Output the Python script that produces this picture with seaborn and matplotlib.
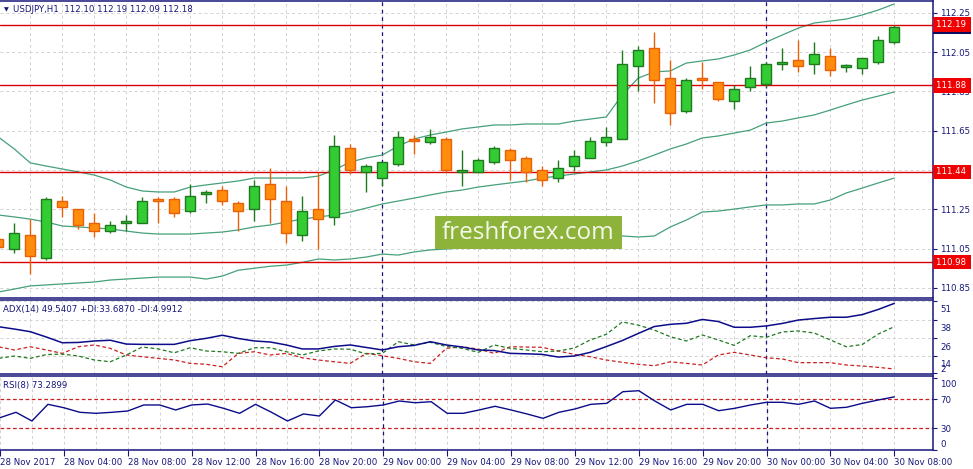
import matplotlib
matplotlib.use('Agg')
import matplotlib.pyplot as plt
import matplotlib.transforms as mtransforms
from matplotlib.patches import Rectangle
import seaborn as sns

# hourly bars, 28 Nov 2017 00:00 .. 30 Nov 08:00
hours = list(range(57))
opens = [111.10, 111.05, 111.12, 111.00, 111.29, 111.25, 111.18, 111.14, 111.18, 111.18,
         111.30, 111.30, 111.24, 111.33, 111.35, 111.28, 111.25, 111.38, 111.29, 111.12,
         111.25, 111.21, 111.56, 111.44, 111.41, 111.48, 111.61, 111.59, 111.61, 111.44,
         111.44, 111.49, 111.55, 111.51, 111.45, 111.41, 111.47, 111.51, 111.59, 111.61,
         111.98, 112.07, 111.92, 111.75, 111.92, 111.90, 111.80, 111.87, 111.89, 111.99,
         112.01, 111.99, 112.03, 111.975, 111.97, 112.00, 112.10]
highs = [111.11, 111.18, 111.20, 111.31, 111.32, 111.25, 111.23, 111.19, 111.22, 111.31,
         111.31, 111.31, 111.38, 111.35, 111.37, 111.29, 111.40, 111.46, 111.37, 111.32,
         111.44, 111.63, 111.58, 111.48, 111.49, 111.65, 111.63, 111.66, 111.62, 111.55,
         111.51, 111.57, 111.56, 111.52, 111.47, 111.50, 111.55, 111.62, 111.67, 112.06,
         112.08, 112.15, 112.01, 111.92, 112.00, 111.90, 111.88, 111.98, 112.00, 112.07,
         112.11, 112.10, 112.07, 111.99, 112.02, 112.13, 112.19]
lows = [111.04, 111.03, 110.92, 110.99, 111.21, 111.15, 111.11, 111.13, 111.14, 111.18,
        111.18, 111.21, 111.23, 111.28, 111.27, 111.14, 111.19, 111.18, 111.08, 111.09,
        111.05, 111.17, 111.43, 111.34, 111.37, 111.47, 111.53, 111.58, 111.44, 111.37,
        111.44, 111.48, 111.40, 111.39, 111.37, 111.39, 111.445, 111.51, 111.57, 111.61,
        111.85, 111.79, 111.68, 111.74, 111.86, 111.80, 111.76, 111.85, 111.87, 111.96,
        111.95, 111.94, 111.93, 111.95, 111.94, 111.99, 112.09]
closes = [111.06, 111.13, 111.01, 111.30, 111.26, 111.17, 111.14, 111.17, 111.19, 111.29,
          111.29, 111.23, 111.32, 111.34, 111.29, 111.24, 111.37, 111.30, 111.13, 111.24,
          111.20, 111.57, 111.45, 111.47, 111.49, 111.62, 111.60, 111.62, 111.45, 111.45,
          111.50, 111.56, 111.50, 111.44, 111.40, 111.46, 111.52, 111.60, 111.62, 111.99,
          112.06, 111.91, 111.74, 111.91, 111.91, 111.81, 111.86, 111.92, 111.99, 112.00,
          111.98, 112.04, 111.96, 111.985, 112.02, 112.11, 112.18]

# Bollinger bands
bb_upper = [111.618, 111.557, 111.486, 111.470, 111.455, 111.440, 111.424, 111.399, 111.363, 111.343,
            111.338, 111.338, 111.363, 111.374, 111.384, 111.394, 111.409, 111.409, 111.409, 111.409,
            111.419, 111.450, 111.491, 111.511, 111.526, 111.572, 111.608, 111.628, 111.643, 111.659,
            111.669, 111.679, 111.679, 111.684, 111.684, 111.684, 111.699, 111.709, 111.720, 111.832,
            111.918, 111.949, 111.954, 111.994, 112.005, 112.015, 112.035, 112.061, 112.101, 112.137,
            112.172, 112.198, 112.208, 112.218, 112.239, 112.264, 112.295]
bb_middle = [111.221, 111.211, 111.200, 111.185, 111.165, 111.160, 111.155, 111.150, 111.139, 111.129,
             111.124, 111.124, 111.124, 111.129, 111.134, 111.145, 111.160, 111.170, 111.185, 111.200,
             111.211, 111.221, 111.236, 111.256, 111.277, 111.292, 111.307, 111.323, 111.338, 111.348,
             111.363, 111.374, 111.384, 111.394, 111.409, 111.419, 111.430, 111.440, 111.450, 111.470,
             111.496, 111.526, 111.557, 111.582, 111.613, 111.623, 111.638, 111.653, 111.689, 111.699,
             111.715, 111.730, 111.755, 111.781, 111.806, 111.826, 111.847]
bb_lower = [110.829, 110.844, 110.860, 110.865, 110.870, 110.875, 110.880, 110.890, 110.895, 110.900,
            110.905, 110.905, 110.905, 110.895, 110.910, 110.940, 110.950, 110.960, 110.966, 110.980,
            110.997, 110.992, 110.997, 111.007, 111.022, 111.017, 111.033, 111.043, 111.048, 111.053,
            111.058, 111.063, 111.068, 111.078, 111.089, 111.099, 111.114, 111.134, 111.145, 111.114,
            111.109, 111.114, 111.160, 111.195, 111.236, 111.241, 111.251, 111.262, 111.272, 111.272,
            111.277, 111.277, 111.297, 111.333, 111.358, 111.384, 111.409]

levels = [112.19, 111.88, 111.44, 110.98]
price_ticks = [110.85, 111.05, 111.25, 111.45, 111.65, 111.85, 112.05, 112.25]

# ADX(14)
adx = [33.7, 32.1, 30.3, 26.7, 22.8, 23.0, 24.0, 24.5, 21.9, 21.7,
       21.7, 21.7, 24.2, 25.8, 27.9, 25.7, 24.0, 23.3, 21.3, 18.6,
       18.6, 20.3, 21.3, 19.6, 17.9, 20.1, 21.0, 23.5, 21.3, 19.9,
       17.9, 17.5, 15.6, 15.3, 14.9, 13.1, 13.8, 16.3, 20.2, 24.3,
       29.1, 33.8, 35.3, 36.0, 38.6, 37.2, 33.3, 33.3, 34.2, 35.9,
       38.2, 39.2, 40.1, 40.1, 41.9, 45.4, 49.5]
plus_di = [12.2, 13.8, 12.2, 14.8, 15.1, 13.8, 11.1, 9.9, 14.5, 19.9,
           18.6, 16.0, 19.4, 17.2, 16.7, 15.6, 19.4, 19.4, 16.7, 14.5,
           17.2, 18.6, 18.4, 15.2, 15.6, 23.5, 21.3, 23.1, 20.3, 19.0,
           16.3, 21.3, 19.0, 17.9, 16.7, 17.2, 19.2, 24.7, 28.5, 36.9,
           34.8, 31.4, 26.9, 24.0, 28.1, 24.7, 21.0, 27.6, 26.5, 30.1,
           30.8, 29.4, 24.7, 20.1, 21.6, 28.7, 33.7]
minus_di = [20.1, 17.9, 20.1, 17.9, 15.6, 20.1, 21.3, 19.0, 14.5, 13.3,
            12.2, 11.1, 8.8, 8.2, 6.5, 15.6, 16.7, 14.5, 15.6, 12.6,
            11.1, 9.9, 8.8, 15.6, 14.0, 12.2, 9.9, 8.8, 19.0, 20.1,
            18.5, 15.6, 20.1, 19.9, 19.7, 17.2, 14.9, 13.3, 11.1, 9.5,
            8.2, 7.2, 9.9, 8.8, 7.7, 14.5, 16.3, 14.5, 12.6, 11.8,
            9.3, 9.3, 9.3, 7.7, 7.0, 6.1, 5.0]
adx_ticks = [2, 14, 26, 38, 51]

# RSI(8)
rsi = [44.6, 52.0, 40.0, 63.0, 58.3, 52.0, 50.6, 52.0, 53.8, 62.1,
       62.1, 55.2, 62.1, 63.4, 57.5, 50.6, 63.0, 52.0, 40.0, 49.7,
       46.9, 69.0, 58.3, 59.7, 62.1, 67.6, 65.2, 66.6, 50.6, 50.6,
       55.2, 60.3, 55.2, 49.7, 43.7, 52.0, 56.6, 63.0, 64.4, 80.4,
       81.8, 67.6, 55.2, 63.0, 63.0, 54.2, 57.5, 62.1, 65.8, 65.8,
       63.0, 67.6, 57.5, 58.9, 64.4, 69.0, 73.3]
rsi_ticks = [0, 30, 70, 100]

time_ticks = list(range(0, 57, 4))
time_labels = ['28 Nov 2017', '28 Nov 04:00', '28 Nov 08:00', '28 Nov 12:00', '28 Nov 16:00',
               '28 Nov 20:00', '29 Nov 00:00', '29 Nov 04:00', '29 Nov 08:00', '29 Nov 12:00',
               '29 Nov 16:00', '29 Nov 20:00', '30 Nov 00:00', '30 Nov 04:00', '30 Nov 08:00']
day_breaks = [24, 48]

sns.set_style('white')
plt.rcParams['font.family'] = ['DejaVu Sans']

navy = '#16167a'
grid_col = '#d2d2d2'
fs = 6.2

fig = plt.figure(figsize=(9.73, 4.69), dpi=100)
W, H = 973, 469
axw = 933 / W
ax = fig.add_axes([0, 1 - 298 / H, axw, 297 / H])
ax_adx = fig.add_axes([0, 1 - 374 / H, axw, 74 / H])
ax_rsi = fig.add_axes([0, 1 - 450 / H, axw, 74 / H])

for a in (ax, ax_adx, ax_rsi):
    a.set_xlim(0.106, 58.42)
    for s in a.spines.values():
        s.set_color(navy)
        s.set_linewidth(1.1)
    a.spines['left'].set_visible(False)
    a.yaxis.tick_right()
    a.tick_params(axis='y', which='both', left=False, right=True, labelleft=False, labelright=True,
                  length=3, width=0.8, pad=2, colors=navy, labelsize=fs, direction='out')
    a.tick_params(axis='x', bottom=False, labelbottom=False)
    for h in hours[::2]:
        a.axvline(h, color=grid_col, lw=0.7, ls=(0, (3, 3)), zorder=0)
    for d in day_breaks:
        a.axvline(d, color=navy, lw=0.9, ls=(0, (3, 3)), zorder=1)

# main price panel
ax.set_ylim(110.7985, 112.3099)
ax.set_yticks(price_ticks)
ax.set_yticklabels(['%.2f' % v for v in price_ticks])
for v in price_ticks:
    ax.axhline(v, color=grid_col, lw=0.7, ls=(0, (3, 3)), zorder=0)

for b in (bb_upper, bb_middle, bb_lower):
    sns.lineplot(x=hours, y=b, ax=ax, color='#46a07a', lw=0.9, zorder=2)

for lv in levels:
    ax.axhline(lv, color='#d80000', lw=1.0, zorder=2.5)

up = [c >= o for o, c in zip(opens, closes)]
fill = ['#33cc33' if u else '#ff8c0a' for u in up]
edge = ['#1f7a1f' if u else '#e8600a' for u in up]
body_lo = [min(o, c) for o, c in zip(opens, closes)]
body_h = [max(abs(c - o), 0.002) for o, c in zip(opens, closes)]
ax.vlines(hours, lows, highs, colors=edge, lw=1.0, zorder=3)
ax.bar(hours, body_h, bottom=body_lo, width=0.62, color=fill, edgecolor=edge, lw=1.0, zorder=4)

# price labels in boxes on the right scale
ytr = ax.get_yaxis_transform()
box_kw = dict(transform=ytr, ha='left', va='center', fontsize=fs, color='white', clip_on=False)
ax.text(1.003, closes[-1], '%.2f ' % closes[-1], zorder=9,
        bbox=dict(boxstyle='square,pad=0.3', fc='#0c0c60', ec='none'), **box_kw)
for lv in levels:
    ax.text(1.003, lv, '%.2f ' % lv, zorder=10,
            bbox=dict(boxstyle='square,pad=0.3', fc='#f00000', ec='none'), **box_kw)

ax.text(4 / 933, 0.971, '\u25bc', transform=ax.transAxes, fontsize=4.5, color=navy, va='center')
ax.text(13 / 933, 0.971, 'USDJPY,H1  %.2f %.2f %.2f %.2f' % (opens[-1], highs[-1], lows[-1], closes[-1]),
        transform=ax.transAxes, fontsize=fs, color=navy, va='center')

# watermark
ax.add_patch(Rectangle((435 / 933, (298 - 249.3) / 297), 186.7 / 933, 33.3 / 297,
                       transform=ax.transAxes, fc='#8db33a', ec='none', zorder=6))
ax.text(528 / 933, (298 - 232.5) / 297, 'freshforex.com', transform=ax.transAxes,
        ha='center', va='center', fontsize=17.5, family='Open Sans', color='#f4f8ea', zorder=7)

# ADX panel
ax_adx.set_ylim(1.6, 51.8)
ax_adx.set_yticks(adx_ticks)
ax_adx.set_yticklabels([str(v) for v in adx_ticks])
for v in adx_ticks[1:]:
    ax_adx.axhline(v, color=grid_col, lw=0.7, ls=(0, (3, 3)), zorder=0)
sns.lineplot(x=hours, y=minus_di, ax=ax_adx, color='#cc2020', lw=0.9, ls=(0, (3, 2)), zorder=2)
sns.lineplot(x=hours, y=plus_di, ax=ax_adx, color='#1f7a1f', lw=0.9, ls=(0, (3, 2)), zorder=2)
sns.lineplot(x=hours, y=adx, ax=ax_adx, color='#0c0c8a', lw=1.1, zorder=3)
ax_adx.text(3 / 933, 0.869, 'ADX(14) 49.5407 +DI:33.6870 -DI:4.9912', transform=ax_adx.transAxes,
            fontsize=fs, color=navy, va='center')
for lab, dy in zip(ax_adx.get_yticklabels(), [5, -7.6, -8, -7.4, -7]):
    lab.set_transform(lab.get_transform() + mtransforms.ScaledTranslation(0, dy / 100, fig.dpi_scale_trans))

# RSI panel
ax_rsi.set_ylim(0, 102.07)
ax_rsi.set_yticks(rsi_ticks)
ax_rsi.set_yticklabels([str(v) for v in rsi_ticks])
for v in (30, 70):
    ax_rsi.axhline(v, color='#cc2020', lw=0.9, ls=(0, (3, 2)), zorder=1)
sns.lineplot(x=hours, y=rsi, ax=ax_rsi, color='#0c0c8a', lw=1.0, zorder=3)
ax_rsi.text(3 / 933, 0.869, 'RSI(8) 73.2899', transform=ax_rsi.transAxes,
            fontsize=fs, color=navy, va='center')
for lab, dy in zip(ax_rsi.get_yticklabels(), [6.7, 0, 0, -6]):
    lab.set_transform(lab.get_transform() + mtransforms.ScaledTranslation(0, dy / 100, fig.dpi_scale_trans))

ax_rsi.set_xticks(time_ticks)
ax_rsi.set_xticklabels(time_labels)
ax_rsi.tick_params(axis='x', bottom=True, labelbottom=True, length=4, width=0.8, pad=2,
                   colors=navy, labelsize=fs, direction='out')
for lab in ax_rsi.get_xticklabels():
    lab.set_horizontalalignment('left')

for a in (ax, ax_adx, ax_rsi):
    a.set_xlabel('')
    a.set_ylabel('')

fig.savefig('out.png', dpi=100)
